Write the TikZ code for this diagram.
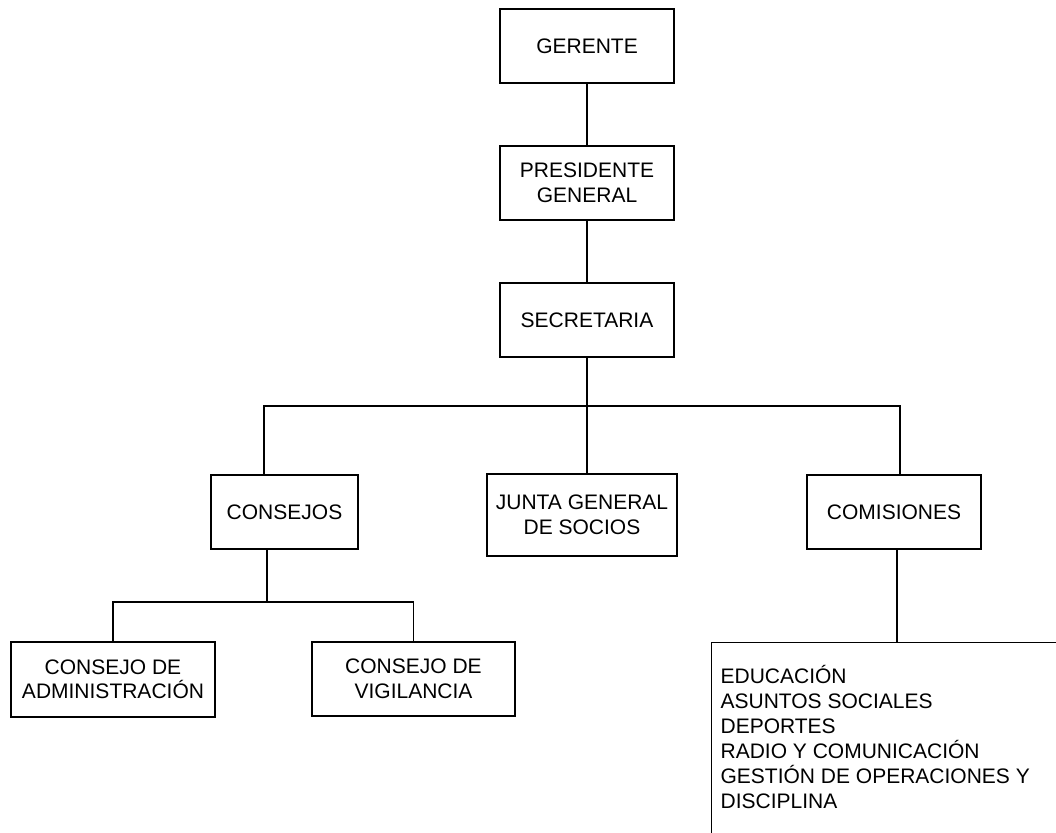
\documentclass[tikz,border=0pt]{standalone}
\usepackage{fontspec}
\setmainfont{Liberation Sans}
\usepackage{tikz}

\begin{document}
\begin{tikzpicture}[x=1pt, y=-1pt, line width=1.2pt,
	caja/.style={draw, align=center, inner sep=2pt, minimum width=174pt, minimum height=74pt, font=\fontsize{21}{24.5}\selectfont}]
	\useasboundingbox (0,0) rectangle (1056,832);
	\clip (0,0) rectangle (1056,832);
	\node[caja] (ger) at (587,46) {GERENTE};
	\node[caja] (pres) at (587,183) {PRESIDENTE\\GENERAL};
	\node[caja] (sec) at (587,320) {SECRETARIA};
	\node[caja, minimum width=147pt] (cons) at (284.5,512) {CONSEJOS};
	\node[caja, minimum width=190pt, minimum height=82pt] (junta) at (582,515) {JUNTA GENERAL\\DE SOCIOS};
	\node[caja] (com) at (894,512) {COMISIONES};
	\node[caja, minimum width=204pt, minimum height=75pt] (adm) at (113,679.5) {CONSEJO DE\\ADMINISTRACIÓN};
	\node[caja, minimum width=203pt] (vig) at (413.5,679) {CONSEJO DE\\VIGILANCIA};
	\node[draw, anchor=north west, minimum width=420pt, minimum height=300pt] (lista) at (711,642) {};
	\node[anchor=north west, align=left, inner sep=0pt, font=\fontsize{21}{25}\selectfont] (textolista) at (720,665)
		{EDUCACIÓN\\ASUNTOS SOCIALES\\DEPORTES\\RADIO Y COMUNICACIÓN\\GESTIÓN DE OPERACIONES Y\\DISCIPLINA};
	\coordinate (bus) at (587,406);
	\coordinate (bus2) at (267,602);
	\path[draw]
	(ger) edge (pres)
	(pres) edge (sec)
	(sec.south) edge (sec.south |- junta.north);
	\draw ([xshift=-20.5pt]cons.north) |- (bus) -| ([xshift=6pt]com.north);
	\draw ([xshift=-17.5pt]cons.south) -- (bus2);
	\draw (adm.north) |- (bus2) -| (vig.north);
	\draw ([xshift=3pt]com.south) -- ([xshift=3pt]com.south |- lista.north);
\end{tikzpicture}
\end{document}
